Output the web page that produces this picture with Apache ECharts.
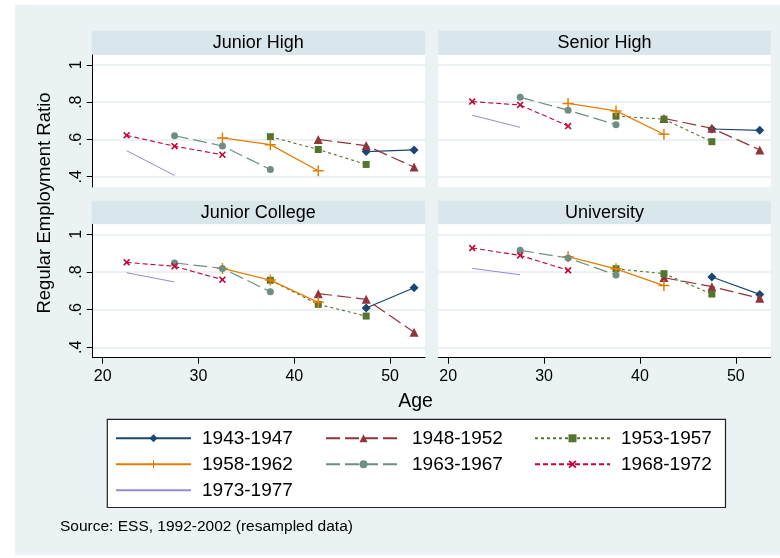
<!DOCTYPE html>
<html>
<head>
<meta charset="utf-8">
<script src="https://cdn.jsdelivr.net/npm/echarts@6/dist/echarts.min.js"></script>
<style>
html,body{margin:0;padding:0;background:#fff;}
#chart{width:780px;height:558px;}
</style>
</head>
<body>
<div id="chart"></div>
<script>
// ---- data ----
const ages = [22.5, 27.5, 32.5, 37.5, 42.5, 47.5, 52.5];
const cohorts = ['1943-1947', '1948-1952', '1953-1957', '1958-1962', '1963-1967', '1968-1972', '1973-1977'];
const panelTitles = ['Junior High', 'Senior High', 'Junior College', 'University'];
const xTickValues = [20, 30, 40, 50];
const yTickValues = [0.4, 0.6, 0.8, 1];

// rows follow cohorts order; columns follow ages
const juniorHigh = [
  [null, null, null, null, null, 0.535, 0.544],
  [null, null, null, null, 0.600, 0.567, 0.452],
  [null, null, null, 0.615, 0.546, 0.466, null],
  [null, null, 0.608, 0.572, 0.432, null, null],
  [null, 0.620, 0.565, 0.439, null, null, null],
  [0.622, 0.564, 0.518, null, null, null, null],
  [0.540, 0.407, null, null, null, null, null]
];
const seniorHigh = [
  [null, null, null, null, null, 0.656, 0.649],
  [null, null, null, null, 0.713, 0.660, 0.544],
  [null, null, null, 0.725, 0.709, 0.588, null],
  [null, null, 0.793, 0.753, 0.628, null, null],
  [null, 0.826, 0.757, 0.679, null, null, null],
  [0.803, 0.785, 0.672, null, null, null, null],
  [0.730, 0.665, null, null, null, null, null]
];
const juniorCollege = [
  [null, null, null, null, null, 0.609, 0.716],
  [null, null, null, null, 0.685, 0.655, 0.480],
  [null, null, null, 0.756, 0.628, 0.566, null],
  [null, null, 0.819, 0.757, 0.639, null, null],
  [null, 0.848, 0.819, 0.695, null, null, null],
  [0.851, 0.830, 0.759, null, null, null, null],
  [0.796, 0.747, null, null, null, null, null]
];
const university = [
  [null, null, null, null, null, 0.773, 0.681],
  [null, null, null, null, 0.770, 0.722, 0.660],
  [null, null, null, 0.817, 0.791, 0.683, null],
  [null, null, 0.881, 0.817, 0.728, null, null],
  [null, 0.915, 0.874, 0.784, null, null, null],
  [0.927, 0.888, 0.809, null, null, null, null],
  [0.819, 0.785, null, null, null, null, null]
];
const panels = [juniorHigh, seniorHigh, juniorCollege, university];

// ---- styles ----
const FONT = "'Liberation Sans', Arial, sans-serif";
const plusPath = 'path://M5.2,0h1.6v5.2h5.2v1.6h-5.2v5.2h-1.6v-5.2h-5.2v-1.6h5.2z';
const xPath = 'path://M0,1.6L1.6,0L5,3.4L8.4,0L10,1.6L6.6,5L10,8.4L8.4,10L5,6.6L1.6,10L0,8.4L3.4,5Z';
const styles = [
  {color: '#1a476f', type: 'solid', symbol: 'diamond', size: 9, width: 1.2},
  {color: '#90353b', type: [14, 5], symbol: 'triangle', size: 9, width: 1.2},
  {color: '#55752f', type: [3, 3], symbol: 'rect', size: 7, width: 1.1},
  {color: '#e37e00', type: 'solid', symbol: plusPath, size: 11, width: 1.3},
  {color: '#6e8e84', type: [14, 5], symbol: 'circle', size: 7, width: 1.2},
  {color: '#c10534', type: [5, 3], symbol: xPath, size: 7, width: 1.1},
  {color: '#938dd2', type: 'solid', symbol: 'none', size: 0, width: 1}
];

const grids = [
  {left: 92.7, top: 55, width: 332.3, height: 132},
  {left: 438.3, top: 55, width: 332.4, height: 132},
  {left: 92.7, top: 224.3, width: 332.3, height: 133.4},
  {left: 438.3, top: 224.3, width: 332.4, height: 133.4}
];
const headers = [
  {x: 91.7, y: 30.7, w: 333.3, h: 24.3},
  {x: 438.3, y: 30.7, w: 332.4, h: 24.3},
  {x: 91.7, y: 200.7, w: 333.3, h: 23.6},
  {x: 438.3, y: 200.7, w: 332.4, h: 23.6}
];

const xAxes = grids.map((g, i) => {
  const bottom = i >= 2;
  return {
    type: 'value', gridIndex: i, min: 18.96, max: 53.64,
    axisLine: {show: bottom, onZero: false, lineStyle: {color: '#000', width: 1}},
    axisTick: {show: bottom, length: 6, customValues: xTickValues, lineStyle: {color: '#000'}},
    axisLabel: {show: bottom, customValues: xTickValues, margin: 11, fontSize: 16, color: '#000', fontFamily: FONT},
    splitLine: {show: false}
  };
});
const yAxes = grids.map((g, i) => {
  const left = i % 2 === 0;
  return {
    type: 'value', gridIndex: i, min: 0.345, max: 1.053,
    axisLine: {show: left, onZero: false, lineStyle: {color: '#000', width: 1}},
    axisTick: {show: left, length: 6, customValues: yTickValues, lineStyle: {color: '#000'}},
    axisLabel: {show: left, customValues: yTickValues, rotate: 90, margin: 8, fontSize: 16, color: '#000', fontFamily: FONT,
      formatter: v => (v >= 1 ? '1' : String(Math.round(v * 10) / 10).replace(/^0/, ''))},
    splitLine: {show: true, lineStyle: {color: '#e6eef1', width: 1.5}}
  };
});

const series = [];
panels.forEach((panel, p) => {
  panel.forEach((vals, c) => {
    const st = styles[c];
    series.push({
      type: 'line', name: cohorts[c], xAxisIndex: p, yAxisIndex: p,
      data: ages.map((a, k) => [a, vals[k]]),
      connectNulls: false,
      symbol: st.symbol, symbolSize: st.size, showSymbol: st.symbol !== 'none',
      lineStyle: {color: st.color, type: st.type, width: st.width},
      itemStyle: {color: st.color},
      emphasis: {disabled: true},
      animation: false,
      z: 3 + c
    });
  });
});

const legendText = {fontSize: 19, color: '#000', fontFamily: FONT, padding: [0, 0, 0, 6]};
const mkLegend = (names, left) => ({
  data: names, left: left, top: 428.8, orient: 'vertical', padding: 0,
  itemWidth: 75, itemHeight: 10, itemGap: 7, textStyle: legendText, selectedMode: false
});

const graphics = [
  {type: 'rect', shape: {x: 0, y: 0, width: 15, height: 558}, style: {fill: '#fff'}, z: -10},
  {type: 'rect', shape: {x: 0, y: 0, width: 780, height: 5}, style: {fill: '#fff'}, z: -10},
  {type: 'rect', shape: {x: 0, y: 555, width: 780, height: 3}, style: {fill: '#fff'}, z: -10},
  {type: 'rect', shape: {x: 107.3, y: 419.3, width: 618.2, height: 88.2}, style: {fill: '#fff', stroke: '#222', lineWidth: 1.2}, z: -1},
  {type: 'text', x: 45, y: 203, rotation: Math.PI / 2,
    style: {text: 'Regular Employment Ratio', fontSize: 18.5, fill: '#000', fontFamily: FONT, align: 'center', verticalAlign: 'middle'}},
  {type: 'text', x: 415.5, y: 401.7,
    style: {text: 'Age', fontSize: 19.5, fill: '#000', fontFamily: FONT, align: 'center', verticalAlign: 'middle'}},
  {type: 'text', x: 60, y: 527,
    style: {text: 'Source: ESS, 1992-2002 (resampled data)', fontSize: 15.5, fill: '#000', fontFamily: FONT, align: 'left', verticalAlign: 'middle'}}
];
headers.forEach((h, i) => {
  graphics.push({type: 'rect', shape: {x: h.x, y: h.y, width: h.w, height: h.h}, style: {fill: '#d9e6eb'}, z: -1});
  graphics.push({type: 'text', x: h.x + h.w / 2, y: h.y + h.h / 2 + 0.5,
    style: {text: panelTitles[i], fontSize: 18, fill: '#000', fontFamily: FONT, align: 'center', verticalAlign: 'middle'}});
});

const chart = echarts.init(document.getElementById('chart'), null, {renderer: 'canvas'});
chart.setOption({
  backgroundColor: '#eaf2f3',
  animation: false,
  textStyle: {fontFamily: FONT},
  grid: grids.map(g => Object.assign({show: true, backgroundColor: '#fff', borderWidth: 0, containLabel: false}, g)),
  xAxis: xAxes,
  yAxis: yAxes,
  legend: [
    mkLegend(['1943-1947', '1958-1962', {name: '1973-1977', itemStyle: {opacity: 0}}], 115),
    mkLegend(['1948-1952', '1963-1967'], 325),
    mkLegend(['1953-1957', '1968-1972'], 534)
  ],
  graphic: graphics,
  series: series
});
</script>
</body>
</html>
